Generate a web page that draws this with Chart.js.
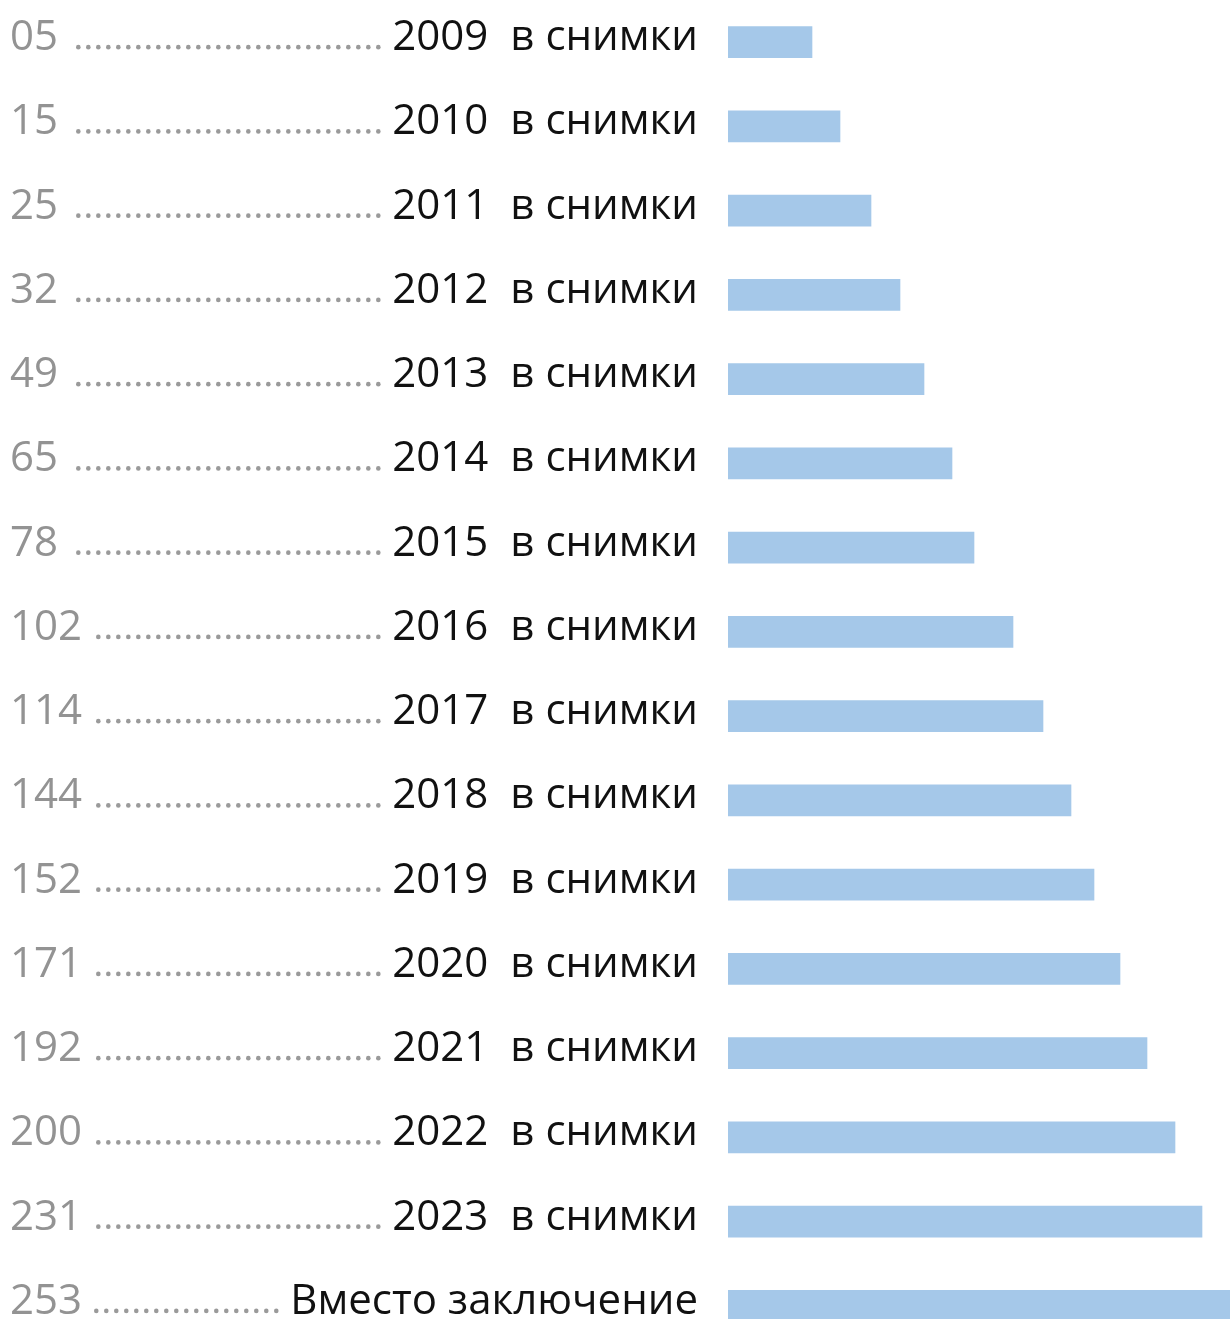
<!DOCTYPE html>
<html>
<head>
<meta charset="utf-8">
<script src="https://cdn.jsdelivr.net/npm/chart.js@4.4.0/dist/chart.umd.min.js"></script>
<style>
  html, body { margin: 0; padding: 0; background: #fff; overflow: hidden; }
  #wrap { width: 1230px; height: 1319px; overflow: hidden; }
  #wrap canvas { display: block; }
</style>
</head>
<body>
<div id="wrap"><canvas id="tocChart" width="1230" height="1348"></canvas></div>
<script>
// --- DATA ---
const pages = ['05', '15', '25', '32', '49', '65', '78', '102', '114', '144', '152', '171', '192', '200', '231', '253'];
const years = ['2009', '2010', '2011', '2012', '2013', '2014', '2015', '2016', '2017', '2018', '2019', '2020', '2021', '2022', '2023', ''];
const titles = ['в снимки', 'в снимки', 'в снимки', 'в снимки', 'в снимки', 'в снимки', 'в снимки', 'в снимки',
    'в снимки', 'в снимки', 'в снимки', 'в снимки', 'в снимки', 'в снимки', 'в снимки', 'Вместо заключение'];
const barValues = [84, 112, 143, 172, 196, 224, 246, 285, 315, 343, 366, 392, 419, 447, 474, 502];

const FONT = '"Open Sans", "Noto Sans", sans-serif';
const FONT_SIZE = 42;

// --- TABLE OF CONTENTS TEXT (drawn next to the bars) ---
const tocLabels = {
    id: 'tocLabels',
    afterDraw(chart) {
        const ctx = chart.ctx;
        const yScale = chart.scales.y;
        const textRight = 698;
        ctx.save();
        ctx.textBaseline = 'alphabetic';
        ctx.font = FONT_SIZE + 'px ' + FONT;

        pages.forEach((page, i) => {
            const base = yScale.getPixelForValue(i) + 8;

            // page number
            ctx.fillStyle = '#939393';
            ctx.textAlign = 'left';
            ctx.fillText(page, 10, base);
            const numEnd = 10 + ctx.measureText(page).width;

            // title, right aligned
            ctx.fillStyle = '#111';
            ctx.textAlign = 'right';
            ctx.fillText(titles[i], textRight, base);
            let textStart = textRight - ctx.measureText(titles[i]).width;
            if (years[i]) {
                const gap = 22;
                ctx.fillText(years[i], textStart - gap, base);
                textStart = textStart - gap - ctx.measureText(years[i]).width;
            }

            // dotted leader
            ctx.fillStyle = '#9a9a9a';
            const first = numEnd + 14;
            const last = textStart - 14;
            for (let x = last; x >= first; x -= 10) {
                ctx.beginPath();
                ctx.arc(x, base - 3, 2.3, 0, Math.PI * 2);
                ctx.fill();
            }
        });
        ctx.restore();
    }
};

const ctx = document.getElementById('tocChart').getContext('2d');
new Chart(ctx, {
    type: 'bar',
    data: {
        labels: pages,
        datasets: [{
            data: barValues,
            backgroundColor: '#a5c8e9',
            borderWidth: 0,
            barThickness: 31,
        }]
    },
    options: {
        indexAxis: 'y',
        responsive: false,
        animation: false,
        layout: { padding: { left: 728, right: 0, top: 0, bottom: 0 } },
        scales: {
            x: { display: false, min: 0, max: 502 },
            y: { display: false }
        },
        plugins: {
            legend: { display: false },
            tooltip: { enabled: false }
        }
    },
    plugins: [tocLabels]
});
</script>
</body>
</html>
